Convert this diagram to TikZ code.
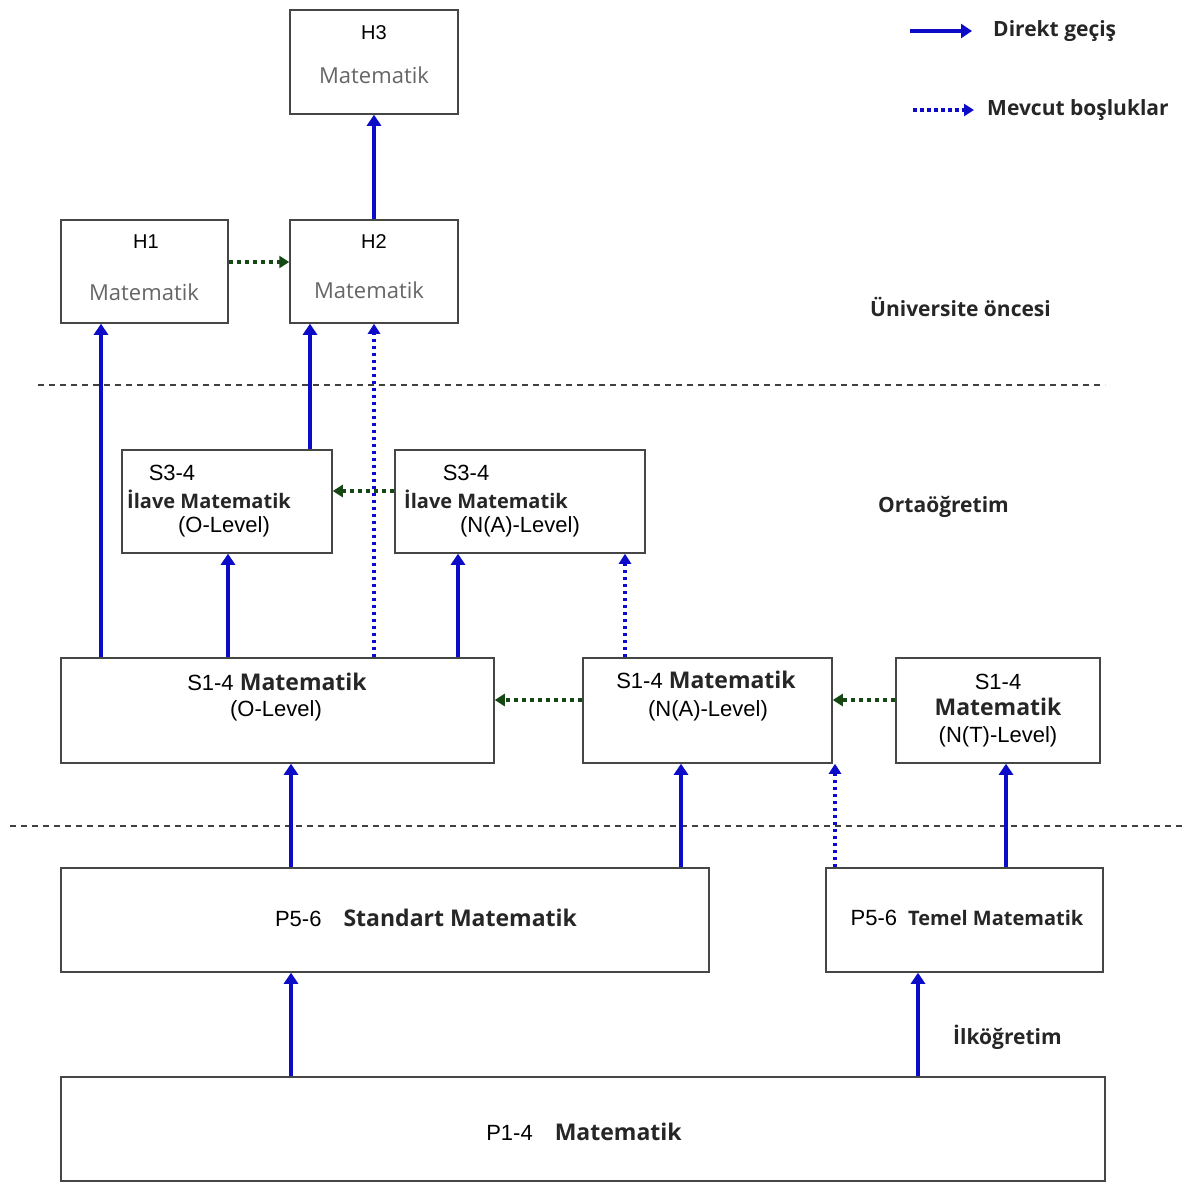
\documentclass[tikz,border=0pt]{standalone}
\usepackage{fontspec}
\setmainfont{Liberation Sans}
\newfontfamily\osans{Open Sans}
\usetikzlibrary{arrows.meta}
\definecolor{arrblue}{RGB}{12,12,200}
\definecolor{gapgreen}{RGB}{22,72,22}
\definecolor{boxgray}{RGB}{70,70,70}
\newcommand{\boldpart}[2][23]{{\color{black!85}\osans\bfseries\fontsize{#1}{#1}\selectfont #2}}

\begin{document}
\begin{tikzpicture}[
    x=1pt, y=-1pt,
    box/.style={rectangle, draw=boxgray, line width=1.5pt, inner sep=0pt},
    txt/.style={inner sep=0pt, font=\fontsize{22}{24}\selectfont},
    hlab/.style={inner sep=0pt, font=\fontsize{20}{22}\selectfont},
    bold/.style={inner sep=0pt, text=black!85, font=\osans\bfseries\fontsize{21}{24}\selectfont},
    boldsm/.style={bold, font=\osans\bfseries\fontsize{20}{22}\selectfont},
    mat/.style={inner sep=0pt, text=black!60, font=\osans\fontsize{22}{24}\selectfont},
    direct/.style={-{Triangle[width=14pt,length=11pt]}, draw=arrblue, line width=4pt},
    gap/.style={-{Triangle[width=12pt,length=10pt]}, draw=arrblue, line width=3.5pt, dash pattern=on 3.5pt off 3.5pt},
    link/.style={-{Triangle[width=12pt,length=10pt]}, draw=gapgreen, line width=4pt, dash pattern=on 4pt off 4pt},
    sep/.style={draw=black!75, line width=1.5pt, dash pattern=on 6pt off 5pt}
]
    \useasboundingbox (0,0) rectangle (1185,1181);

    % Pre-university
    \node[box, minimum width=168pt, minimum height=104pt] (h3) at (374,62) {};
    \node[hlab] (h3a) at (374,33) {H3};
    \node[mat] (h3b) at (374,75) {Matematik};
    \node[box, minimum width=167pt, minimum height=103pt] (h1) at (144.5,271.5) {};
    \node[hlab] (h1a) at (146,242) {H1};
    \node[mat] (h1b) at (144,292) {Matematik};
    \node[box, minimum width=168pt, minimum height=103pt] (h2) at (374,271.5) {};
    \node[hlab] (h2a) at (374,242) {H2};
    \node[mat] (h2b) at (369,290) {Matematik};

    % Secondary
    \node[box, minimum width=210pt, minimum height=103pt] (s3o) at (227,501.5) {};
    \node[txt] (s3oa) at (172,473) {S3-4};
    \node[boldsm] (s3ob) at (209,499) {İlave Matematik};
    \node[txt] (s3oc) at (224,527) {(O-Level)};
    \node[box, minimum width=250pt, minimum height=103pt] (s3n) at (520,501.5) {};
    \node[txt] (s3na) at (466,473) {S3-4};
    \node[boldsm] (s3nb) at (486,499) {İlave Matematik};
    \node[txt] (s3nc) at (520,527) {(N(A)-Level)};

    \node[box, minimum width=433pt, minimum height=105pt] (s1o) at (277.5,710.5) {};
    \node[txt] (s1oa) at (277,682) {S1-4 \boldpart{Matematik}};
    \node[txt] (s1ob) at (276,711) {(O-Level)};
    \node[box, minimum width=249pt, minimum height=105pt] (s1n) at (707.5,710.5) {};
    \node[txt] (s1na) at (706,680) {S1-4 \boldpart{Matematik}};
    \node[txt] (s1nb) at (708,711) {(N(A)-Level)};
    \node[box, minimum width=204pt, minimum height=105pt] (s1t) at (998,710.5) {};
    \node[txt] (s1ta) at (998,682) {S1-4};
    \node[txt] (s1tb) at (998,707) {\boldpart{Matematik}};
    \node[txt] (s1tc) at (998,737) {(N(T)-Level)};

    % Primary
    \node[box, minimum width=648pt, minimum height=104pt] (p5s) at (385,920) {};
    \node[txt] (p5sa) at (426,918) {P5-6\quad\boldpart{Standart Matematik}};
    \node[box, minimum width=277pt, minimum height=104pt] (p5t) at (964.5,920) {};
    \node[txt] (p5ta) at (967,918) {P5-6\enspace\boldpart[20]{Temel Matematik}};
    \node[box, minimum width=1044pt, minimum height=104pt] (p14) at (583,1129) {};
    \node[txt] (p14a) at (584,1132) {P1-4\quad\boldpart{Matematik}};

    % Region separators and titles
    \draw[sep] (38,385) -- (1105,385);
    \draw[sep] (10,826) -- (1185,826);
    \node[bold, anchor=west] (pre) at (870,307) {Üniversite öncesi};
    \node[bold, anchor=west] (sec) at (878,507) {Ortaöğretim};
    \node[bold, anchor=west] (pri) at (953,1037) {İlköğretim};

    % Legend
    \coordinate (d0) at (910,31);
    \coordinate (d1) at (972,31);
    \coordinate (g0) at (913,110);
    \coordinate (g1) at (974,110);
    \draw[direct] (d0) -- (d1);
    \draw[gap] (g0) -- (g1);
    \node[bold, anchor=west] (dlab) at (993,31) {Direkt geçiş};
    \node[bold, anchor=west] (glab) at (987,110) {Mevcut boşluklar};

    % Direct transitions
    \draw[direct] (h2) -- (h3);
    \draw[direct] (101,0 |- s1o.north) -- (101,0 |- h1.south);
    \draw[direct] (310,0 |- s3o.north) -- (310,0 |- h2.south);
    \draw[direct] (228,0 |- s1o.north) -- (228,0 |- s3o.south);
    \draw[direct] (458,0 |- s1o.north) -- (458,0 |- s3n.south);
    \draw[direct] (291,0 |- p5s.north) -- (291,0 |- s1o.south);
    \draw[direct] (681,0 |- p5s.north) -- (681,0 |- s1n.south);
    \draw[direct] (1006,0 |- p5t.north) -- (1006,0 |- s1t.south);
    \draw[direct] (291,0 |- p14.north) -- (291,0 |- p5s.south);
    \draw[direct] (918,0 |- p14.north) -- (918,0 |- p5t.south);

    % Existing gaps
    \draw[gap] (374,0 |- s1o.north) -- (374,0 |- h2.south);
    \draw[gap] (625,0 |- s1n.north) -- (625,0 |- s3n.south);
    \draw[gap] (835,0 |- p5t.north) -- (835,0 |- s1n.south);
    \draw[link] (h1.east |- 0,262) -- (h2.west |- 0,262);
    \draw[link] (s3n.west |- 0,491) -- (s3o.east |- 0,491);
    \draw[link] (s1n.west |- 0,700) -- (s1o.east |- 0,700);
    \draw[link] (s1t.west |- 0,700) -- (s1n.east |- 0,700);
\end{tikzpicture}
\end{document}
